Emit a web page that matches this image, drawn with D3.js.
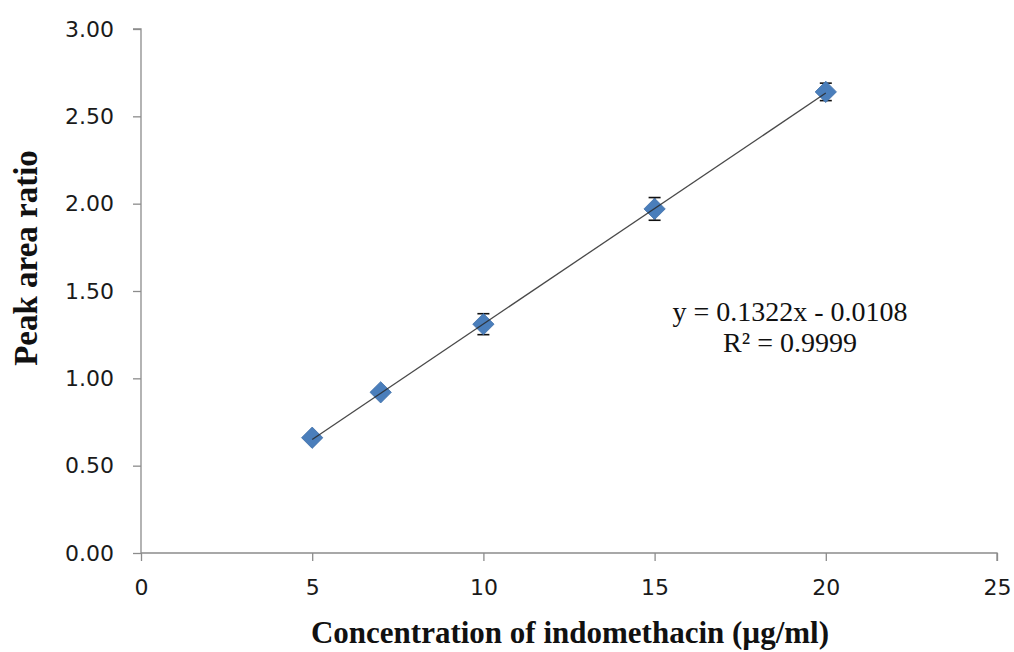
<!DOCTYPE html>
<html>
<head>
<meta charset="utf-8">
<script src="https://cdn.jsdelivr.net/npm/d3@7"></script>
<style>
  html, body { margin: 0; padding: 0; background: #fff; }
  svg { display: block; }
</style>
</head>
<body>
<svg id="chart" width="1014" height="652"></svg>
<script>
// Calibration data: concentration (µg/ml) vs. peak area ratio
const concentrations = [5, 7, 10, 15, 20];
const peakRatios = [0.66, 0.92, 1.31, 1.97, 2.64];
const errors = [0.01, 0.02, 0.06, 0.065, 0.05];
const xTicks = [0, 5, 10, 15, 20, 25];
const yTicks = [0, 0.5, 1, 1.5, 2, 2.5, 3];
const slope = 0.1322;
const intercept = -0.0108;
const equationText = "y = 0.1322x - 0.0108";
const r2Text = "R² = 0.9999";

const svg = d3.select("#chart");
const margin = { left: 141, right: 17, top: 29, bottom: 99 };
const width = 1014, height = 652;

const x = d3.scaleLinear().domain([0, 25]).range([margin.left, width - margin.right]);
const y = d3.scaleLinear().domain([0, 3]).range([height - margin.bottom, margin.top]);

const axisColor = "#8c8c8c";
const tickFont = "'DejaVu Sans', Verdana, sans-serif";

// Y axis
const yAxis = svg.append("g")
  .attr("transform", `translate(${x(0)},0)`)
  .call(d3.axisLeft(y).tickValues(yTicks).tickSize(8).tickPadding(19).tickFormat(d3.format(".2f")));
// X axis
const xAxis = svg.append("g")
  .attr("transform", `translate(0,${y(0)})`)
  .call(d3.axisBottom(x).tickValues(xTicks).tickSize(8).tickPadding(18).tickFormat(d3.format("d")));

[yAxis, xAxis].forEach(g => {
  g.select(".domain").attr("stroke", axisColor).attr("stroke-width", 1.3);
  g.selectAll(".tick line").attr("stroke", axisColor).attr("stroke-width", 1.3);
  g.selectAll(".tick text")
    .attr("fill", "#1a1a1a")
    .style("font-family", tickFont)
    .style("font-size", "22px");
});
yAxis.select(".domain").attr("d", `M-8,${y(3)}H0V${y(0)}`);
xAxis.select(".domain").attr("d", `M${x(0)},0H${x(25)}V8`);

const xMin = d3.min(concentrations), xMax = d3.max(concentrations);
const points = concentrations.map((c, i) => ({ c, v: peakRatios[i], e: errors[i] }));

// Error bars
const eb = svg.append("g").attr("stroke", "#111").attr("stroke-width", 1.6);
points.forEach(p => {
  const cx = x(p.c);
  eb.append("line").attr("x1", cx).attr("x2", cx).attr("y1", y(p.v + p.e)).attr("y2", y(p.v - p.e));
  eb.append("line").attr("x1", cx - 6).attr("x2", cx + 6).attr("y1", y(p.v + p.e)).attr("y2", y(p.v + p.e));
  eb.append("line").attr("x1", cx - 6).attr("x2", cx + 6).attr("y1", y(p.v - p.e)).attr("y2", y(p.v - p.e));
});

// Diamond markers
const diamond = d3.symbol().type(d3.symbolDiamond2).size(290);
svg.append("g").selectAll("path")
  .data(points)
  .join("path")
  .attr("d", diamond)
  .attr("transform", d => `translate(${x(d.c)},${y(d.v)})`)
  .attr("fill", "#4a7ebb")
  .attr("stroke", "#3f6fa8")
  .attr("stroke-width", 0.8);

// Linear trendline across the data range, drawn over the markers
svg.append("line")
  .attr("x1", x(xMin)).attr("y1", y(slope * xMin + intercept))
  .attr("x2", x(xMax)).attr("y2", y(slope * xMax + intercept))
  .attr("stroke", "#2a2a2a")
  .attr("stroke-width", 1.3)
  .attr("opacity", 0.85);

// Equation labels
const serif = "'Liberation Serif', 'Times New Roman', serif";
svg.append("text")
  .attr("x", 790).attr("y", 321)
  .attr("text-anchor", "middle")
  .style("font-family", serif).style("font-size", "28px").attr("fill", "#111")
  .text(equationText);
svg.append("text")
  .attr("x", 790).attr("y", 352)
  .attr("text-anchor", "middle")
  .style("font-family", serif).style("font-size", "28px").attr("fill", "#111")
  .text(r2Text);

// Axis titles
svg.append("text")
  .attr("x", 570).attr("y", 643)
  .attr("text-anchor", "middle")
  .style("font-family", serif).style("font-size", "31px").style("font-weight", "bold")
  .attr("fill", "#111")
  .text("Concentration of indomethacin (µg/ml)");
svg.append("text")
  .attr("transform", `translate(37,258) rotate(-90)`)
  .attr("text-anchor", "middle")
  .style("font-family", serif).style("font-size", "33px").style("font-weight", "bold")
  .attr("fill", "#111")
  .text("Peak area ratio");
</script>
</body>
</html>
